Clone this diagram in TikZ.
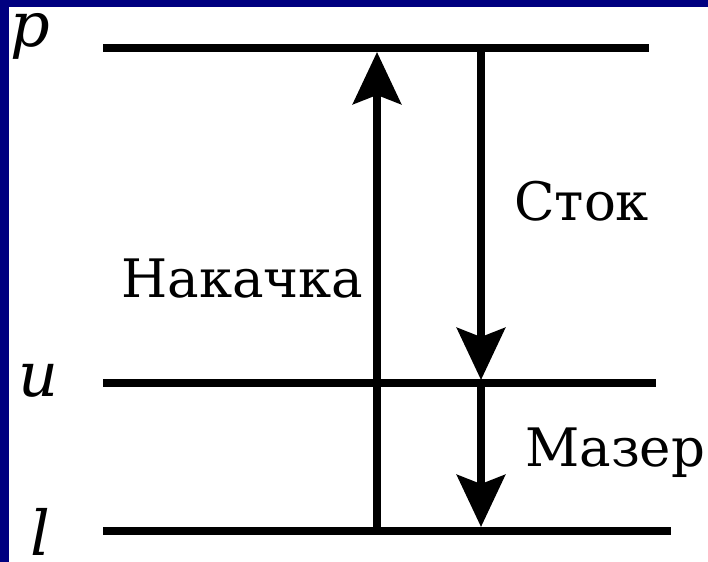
\documentclass[tikz,border=0pt]{standalone}
\usepackage{fontspec}
\setmainfont{DejaVu Serif}
\usetikzlibrary{arrows.meta}
\definecolor{navyframe}{RGB}{0,0,128}
\tikzset{
  level/.style={line width=8.5bp, black},
  trans/.style={line width=8bp, black, -{Stealth[length=52bp,width=48bp,inset=9bp]}},
  lbl/.style={anchor=base west, inner sep=0pt, font=\rmfamily\fontsize{53bp}{60bp}\selectfont},
  var/.style={anchor=base west, inner sep=0pt, font=\rmfamily\fontsize{62bp}{70bp}\selectfont\itshape},
}
\begin{document}
\begin{tikzpicture}[x=1bp,y=-1bp]
\useasboundingbox (0,0) rectangle (708,562);
\fill[white] (0,0) rectangle (708,562);
% level end points
\coordinate (pL) at (103,48);
\coordinate (pR) at (649,48);
\coordinate (uL) at (103,383);
\coordinate (uR) at (656,383);
\coordinate (lL) at (103,531);
\coordinate (lR) at (671,531);
% transition end points
\coordinate (pumpS) at (377,531);
\coordinate (pumpE) at (377,52);
\coordinate (drainS) at (481,48);
\coordinate (drainE) at (481,380);
\coordinate (maserS) at (481,383);
\coordinate (maserE) at (481,527);
\draw[level] (pL) -- (pR);
\draw[level] (uL) -- (uR);
\draw[level] (lL) -- (lR);
\draw[trans] (pumpS) -- (pumpE);
\draw[trans] (drainS) -- (drainE);
\draw[trans] (maserS) -- (maserE);
% labels
\node[var] (vp) at (10,47) {p};
\node[var] (vu) at (18,396) {u};
\node[var] (vl) at (30,555) {l};
\node[lbl] (tpump) at (121,297) {Накачка};
\node[lbl] (tdrain) at (514,221) {Сток};
\node[lbl] (tmaser) at (525,466) {Мазер};
% frame on top
\fill[navyframe] (0,0) rectangle (708,7);
\fill[navyframe] (0,0) rectangle (9,562);
\end{tikzpicture}
\end{document}
